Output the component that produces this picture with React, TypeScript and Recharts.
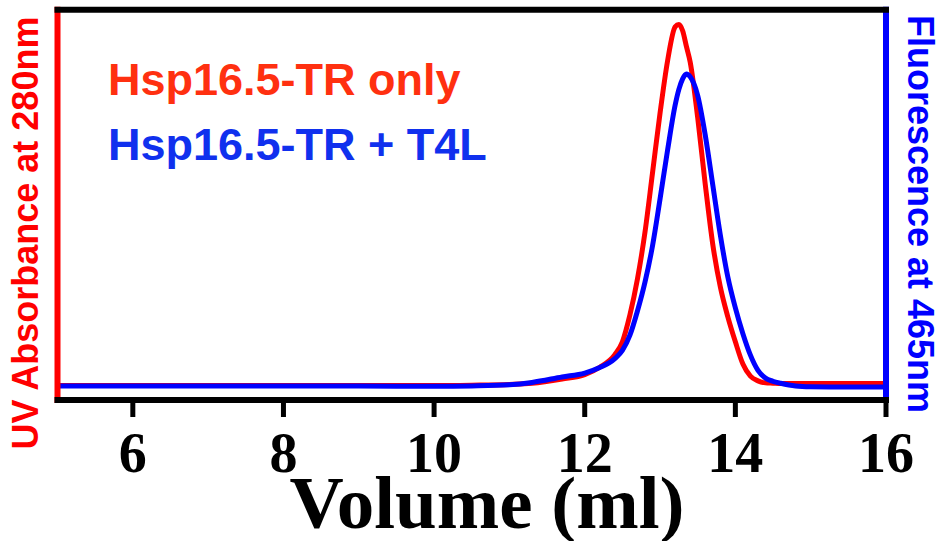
import React from 'react';
import { LineChart, Line, XAxis, YAxis, ReferenceLine, Legend } from 'recharts';

const volume = [5, 6, 7, 8, 9, 10, 10.5, 11, 11.3, 11.7, 12, 12.2, 12.4, 12.5, 12.6, 12.7, 12.8, 12.9, 13, 13.1, 13.2, 13.25, 13.3, 13.35, 13.4, 13.5, 13.6, 13.7, 13.8, 13.9, 14, 14.1, 14.2, 14.3, 14.4, 14.5, 14.6, 14.8, 15, 15.5, 16];
const uvOnly = [3.7, 3.7, 3.7, 3.7, 3.7, 3.7, 3.8, 4.0, 4.3, 5.4, 6.5, 8.4, 11.6, 14.9, 21.8, 31.0, 43.0, 58.2, 73.5, 86.9, 95.6, 96.2, 94.6, 90.6, 86.6, 72.3, 55.3, 39.9, 29.0, 21.3, 14.9, 9.2, 6.1, 4.9, 4.4, 4.3, 4.2, 4.2, 4.2, 4.2, 4.2];
const fluorescence = [3.6, 3.6, 3.6, 3.6, 3.6, 3.5, 3.6, 3.9, 4.5, 5.9, 6.9, 8.3, 10.6, 12.7, 16.6, 22.8, 30.2, 39.5, 51.5, 64.0, 75.5, 79.6, 82.3, 83.5, 82.8, 78.0, 67.9, 55.1, 42.3, 31.5, 23.6, 17.0, 11.5, 7.6, 5.6, 4.8, 4.3, 3.6, 3.4, 3.3, 3.3];
const xTicks = [6, 8, 10, 12, 14, 16];
const seriesNames = ['Hsp16.5-TR only', 'Hsp16.5-TR + T4L'];
const legendColors = ['#ff3010', '#1030ee'];

const data = volume.map((v, i) => ({ volume: v, uv: uvOnly[i], fl: fluorescence[i] }));

const SANS = "'Liberation Sans', Arial, sans-serif";
const SERIF = "'Liberation Serif', 'Times New Roman', serif";

const XTick = (props: any) => {
  const { x, y, payload } = props;
  return (
    <text x={x} y={y} dy={53} textAnchor="middle" fontFamily={SERIF} fontWeight="bold" fontSize={56} fill="#000">
      {payload.value}
    </text>
  );
};

const XLabel = () => (
  <text x={487} y={528} textAnchor="middle" fontFamily={SERIF} fontWeight="bold" fontSize={75} fill="#000">
    Volume (ml)
  </text>
);

const LeftLabel = () => (
  <text x={25} y={233} transform="rotate(-90 25 233)" textAnchor="middle" dominantBaseline="central" fontFamily={SANS} fontWeight="bold" fontSize={36} fill="#ff0000">
    UV Absorbance at 280nm
  </text>
);

const RightLabel = () => (
  <text x={920} y={214} transform="rotate(90 920 214)" textAnchor="middle" dominantBaseline="central" fontFamily={SANS} fontWeight="bold" fontSize={36} fill="#0000ff">
    Fluorescence at 465nm
  </text>
);

const LegendContent = () => (
  <div style={{ fontFamily: SANS, fontWeight: 'bold', fontSize: 45, lineHeight: '65px', whiteSpace: 'nowrap' }}>
    {seriesNames.map((n, i) => (
      <div key={n} style={{ color: legendColors[i] }}>{n}</div>
    ))}
  </div>
);

export default function App() {
  return (
    <div style={{ position: 'absolute', left: 0, top: 0, background: '#fff' }}>
      <LineChart width={942} height={541} data={data} margin={{ top: 9.7, right: 56, left: 57.5, bottom: 0 }}>
        <XAxis
          dataKey="volume"
          type="number"
          domain={[5, 16]}
          ticks={xTicks}
          allowDataOverflow
          height={141}
          axisLine={{ stroke: '#000', strokeWidth: 6, strokeLinecap: 'square' }}
          tickLine={{ stroke: '#000', strokeWidth: 5 }}
          tickSize={17}
          tick={<XTick />}
          label={{ content: () => <XLabel /> }}
        />
        <YAxis yAxisId="uv" hide domain={[0, 100]} allowDataOverflow />
        <YAxis yAxisId="fl" hide orientation="right" domain={[0, 100]} allowDataOverflow />
        <Line yAxisId="uv" type="monotone" dataKey="uv" name={seriesNames[0]} stroke="#ff0000" strokeWidth={5} dot={false} isAnimationActive={false} />
        <Line yAxisId="fl" type="monotone" dataKey="fl" name={seriesNames[1]} stroke="#0000ff" strokeWidth={5} dot={false} isAnimationActive={false} />
        <ReferenceLine yAxisId="uv" x={5} stroke="#ff0000" strokeWidth={6} strokeLinecap="square" label={{ content: () => <LeftLabel /> }} />
        <ReferenceLine yAxisId="fl" x={16} stroke="#0000ff" strokeWidth={6} strokeLinecap="square" label={{ content: () => <RightLabel /> }} />
        <ReferenceLine yAxisId="uv" y={100} stroke="#000" strokeWidth={6} strokeLinecap="square" />
        <Legend
          layout="horizontal"
          verticalAlign="middle"
          align="center"
          content={<LegendContent />}
          wrapperStyle={{ left: 108, top: 47, width: 'auto', height: 'auto' }}
        />
      </LineChart>
    </div>
  );
}
